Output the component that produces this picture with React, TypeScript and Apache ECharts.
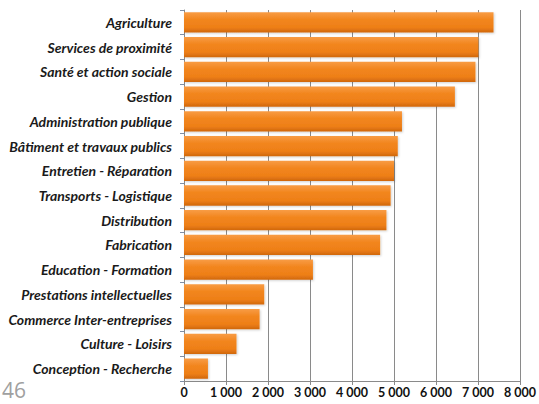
import React, { useEffect, useRef } from "react";
import * as echarts from "echarts";

const categories = [
  "Agriculture",
  "Services de proximité",
  "Santé et action sociale",
  "Gestion",
  "Administration publique",
  "Bâtiment et travaux publics",
  "Entretien - Réparation",
  "Transports - Logistique",
  "Distribution",
  "Fabrication",
  "Education - Formation",
  "Prestations intellectuelles",
  "Commerce Inter-entreprises",
  "Culture - Loisirs",
  "Conception - Recherche",
];

const values = [7370, 7010, 6940, 6450, 5190, 5090, 5000, 4920, 4820, 4670, 3070, 1910, 1800, 1250, 570];

const xMin = 0;
const xMax = 8000;
const xInterval = 1000;
const pageNumber = "46";

const fmt = (v: number) => (v === 0 ? "0" : `${Math.round(v / 1000)} 000`);

export default function App() {
  const ref = useRef<HTMLDivElement>(null);
  useEffect(() => {
    document.body.style.margin = "0";
    const chart = echarts.init(ref.current!, undefined, { renderer: "svg" });
    chart.setOption({
      animation: false,
      backgroundColor: "#ffffff",
      grid: { left: 184, right: 15, top: 10, bottom: 23, containLabel: false },
      xAxis: {
        type: "value",
        min: xMin,
        max: xMax,
        interval: xInterval,
        axisLine: { show: true, lineStyle: { color: "#8a8a8a", width: 1 } },
        axisTick: { show: true, length: 4, lineStyle: { color: "#8a8a8a" } },
        splitLine: { show: true, lineStyle: { color: "#8a8a8a", width: 1 } },
        axisLabel: {
          formatter: fmt,
          color: "#111",
          fontFamily: "Lato",
          fontWeight: "bold",
          fontSize: 12.5,
          margin: 5,
        },
      },
      yAxis: {
        type: "category",
        data: categories,
        inverse: true,
        axisLine: { show: true, lineStyle: { color: "#8a8a8a", width: 1 } },
        axisTick: { show: true, length: 4, lineStyle: { color: "#7f8fa6" } },
        axisLabel: {
          color: "#1a1a1a",
          fontFamily: "Lato",
          fontWeight: "bold",
          fontStyle: "italic",
          fontSize: 14,
          margin: 12,
        },
      },
      series: [
        {
          type: "bar",
          data: values,
          barCategoryGap: "18%",
          itemStyle: {
            color: new echarts.graphic.LinearGradient(0, 0, 0, 1, [
              { offset: 0, color: "#f89c45" },
              { offset: 0.35, color: "#f2861f" },
              { offset: 0.75, color: "#ee7f17" },
              { offset: 1, color: "#d0670d" },
            ]),
            shadowColor: "rgba(0,0,0,0.18)",
            shadowBlur: 2,
            shadowOffsetX: 1,
            shadowOffsetY: 1,
          },
        },
      ],
      graphic: [
        {
          type: "text",
          left: 2,
          top: 379,
          style: {
            text: pageNumber,
            fontFamily: "Open Sans",
            fontSize: 21,
            fill: "#a0a0a0",
          },
        },
      ],
    });
    return () => chart.dispose();
  }, []);
  return <div ref={ref} style={{ position: "absolute", left: 0, top: 0, width: 539, height: 404 }} />;
}
